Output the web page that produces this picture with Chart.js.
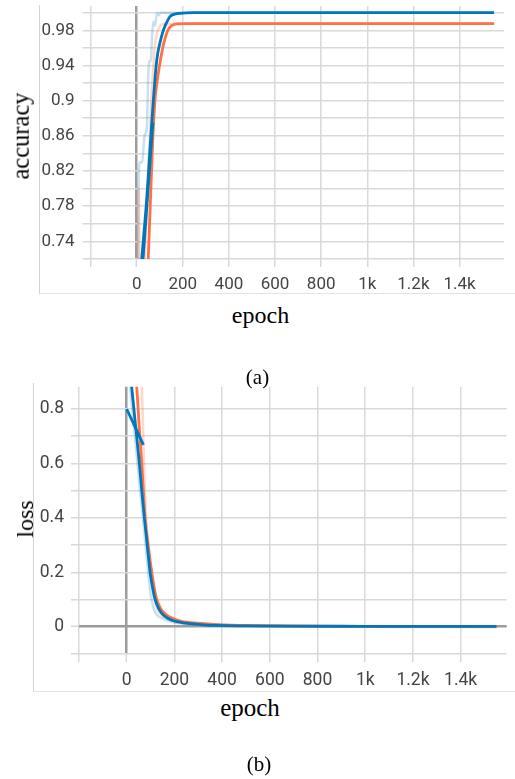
<!DOCTYPE html>
<html>
<head>
<meta charset="utf-8">
<script src="https://cdn.jsdelivr.net/npm/chart.js@4.4.0/dist/chart.umd.min.js"></script>
<style>
  html, body { margin:0; padding:0; background:#fff; }
  body { width:515px; height:779px; position:relative; overflow:hidden; }
  canvas { position:absolute; left:0; }
  .frame { position:absolute; border-left:1px solid #d2d2d2; border-bottom:1px solid #e2e2e2; }
  .lbl { position:absolute; font-family:"Liberation Serif","Times New Roman",serif; color:#000;
         line-height:1; white-space:nowrap; transform:translate(-50%,-50%); }
  .rot { transform:translate(-50%,-50%) rotate(-90deg); }
</style>
</head>
<body>

<div class="frame" style="left:39px; top:5px; width:476px; height:288px;"></div>
<div class="frame" style="left:33px; top:383px; width:482px; height:308px;"></div>

<canvas id="accChart" width="515" height="300" style="top:0; width:515px; height:300px;"></canvas>
<canvas id="lossChart" width="515" height="310" style="top:380px; width:515px; height:310px;"></canvas>

<div class="lbl rot" style="left:21px; top:136px; font-size:24.5px;">accuracy</div>
<div class="lbl" style="left:260.5px; top:315px; font-size:24px;">epoch</div>
<div class="lbl" style="left:257.5px; top:376.5px; font-size:21px;">(a)</div>

<div class="lbl rot" style="left:25px; top:518.5px; font-size:24px;">loss</div>
<div class="lbl" style="left:250px; top:706.5px; font-size:25px;">epoch</div>
<div class="lbl" style="left:259px; top:764px; font-size:21px;">(b)</div>

<script>
const BLUE = "#0077bb";
const ORANGE = "#ff7043";
const BLUE_RAW = "rgba(0,119,187,0.22)";
const ORANGE_RAW = "rgba(255,112,67,0.28)";

/* x axis (shared) */
const epochTicks = [-200, 0, 200, 400, 600, 800, 1000, 1200, 1400];
const epochLabels = ["", "0", "200", "400", "600", "800", "1k", "1.2k", "1.4k"];

/* (a) accuracy */
const accTicks = [0.72, 0.74, 0.76, 0.78, 0.80, 0.82, 0.84, 0.86, 0.88, 0.90, 0.92, 0.94, 0.96, 0.98, 1.0];
const accLabels = ["", "0.74", "", "0.78", "", "0.82", "", "0.86", "", "0.9", "", "0.94", "", "0.98", ""];

const accBlueEpoch = [10, 22, 43, 55, 65, 72, 84, 92, 101, 112, 123, 134, 144, 160, 188, 250, 600, 1000, 1550];
const accBlueValue = [0.675, 0.72, 0.787, 0.835, 0.874, 0.9, 0.939, 0.955, 0.966, 0.977, 0.985, 0.991, 0.9955, 0.998, 0.9993, 1.0, 1.0, 1.0, 1.0];

const accOrangeEpoch = [38, 50, 60, 69, 79, 89, 99, 109, 118, 128, 137, 150, 174, 220, 1550];
const accOrangeValue = [0.64, 0.72, 0.79, 0.852, 0.9, 0.923, 0.94, 0.955, 0.966, 0.975, 0.981, 0.985, 0.9872, 0.9875, 0.9875];

const accShortEpoch = [0, 70];
const accShortValue = [0.62, 0.875];

const accBlueRawEpoch = [3, 8, 14, 24, 34, 44, 50, 55, 62, 67, 72, 80, 88, 95, 105, 120, 140, 1550];
const accBlueRawValue = [0.5, 0.8, 0.83, 0.83, 0.86, 0.87, 0.93, 0.944, 0.947, 0.975, 0.99, 0.985, 1.0, 0.997, 1.0, 1.0, 1.0, 1.0];

const accOrangeRawEpoch = [2, 9, 13, 30, 45, 55, 63, 70, 80, 92, 105, 120, 1550];
const accOrangeRawValue = [0.5, 0.80, 0.68, 0.7, 0.78, 0.85, 0.9, 0.93, 0.965, 0.98, 0.986, 0.9875, 0.9875];

/* (b) loss */
const lossTicks = [-0.1, 0, 0.1, 0.2, 0.3, 0.4, 0.5, 0.6, 0.7, 0.8];
const lossLabels = ["", "0", "", "0.2", "", "0.4", "", "0.6", "", "0.8"];

const lossBlueEpoch = [0, 10, 21, 37, 53, 63, 74, 86, 98, 108, 119, 132, 147, 170, 195, 230, 265, 320, 377, 500, 700, 1000, 1300, 1550];
const lossBlueValue = [1.06, 0.97, 0.88, 0.74, 0.6, 0.5, 0.4, 0.3, 0.2, 0.145, 0.1, 0.07, 0.049, 0.032, 0.022, 0.015, 0.011, 0.007, 0.0045, 0.003, 0.002, 0.0015, 0.001, 0.001];

const lossOrangeEpoch = [25, 42, 52, 63, 77, 90, 105, 115, 126, 140, 155, 175, 195, 230, 300, 400, 600, 1000, 1550];
const lossOrangeValue = [1.02, 0.88, 0.74, 0.6, 0.4, 0.3, 0.2, 0.145, 0.1, 0.07, 0.052, 0.038, 0.03, 0.02, 0.013, 0.007, 0.003, 0.0012, 0.0005];

const lossShortEpoch = [0, 70];
const lossShortValue = [0.80, 0.668];

const lossBlueRawEpoch = [0, 15, 30, 45, 58, 68, 80, 90, 100, 112, 125, 150, 200, 300, 500, 1550];
const lossBlueRawValue = [1.1, 0.88, 0.74, 0.6, 0.48, 0.4, 0.29, 0.2, 0.12, 0.07, 0.045, 0.03, 0.015, 0.008, 0.003, 0.001];

const lossOrangeRawEpoch = [0, 50, 62, 68, 76, 88, 100, 115, 130, 160, 210, 300, 1550];
const lossOrangeRawValue = [1.3, 1.0, 0.9, 0.75, 0.5, 0.32, 0.2, 0.11, 0.06, 0.035, 0.02, 0.01, -0.002];


function points(xs, ys){
   return xs.map((x, i) => ({ x: x, y: ys[i] }));
}

function line(xs, ys, color, width){
   return {
      data: points(xs, ys),
      borderColor: color,
      borderWidth: width,
      pointRadius: 0,
      fill: false,
      cubicInterpolationMode: "monotone",
      clip: 0
   };
}

function gridOpts(){
   return {
      color: c => (c.tick && c.tick.value === 0) ? "#9c9c9c" : "#d9d9d9",
      lineWidth: c => (c.tick && c.tick.value === 0) ? 2.5 : 1.5,
      tickColor: "#d9d9d9",
      tickWidth: 1.5,
      tickLength: 8
   };
}

function fixedBox(size, vertical){
   return function(s){
      if(vertical) s.width = size; else s.height = size;
      s.paddingLeft = 0; s.paddingRight = 0;
      s.paddingTop = 0; s.paddingBottom = 0;
   };
}

function makeChart(id, cfg){
   return new Chart(document.getElementById(id), {
      type: "line",
      data: { datasets: cfg.datasets },
      options: {
         responsive: false,
         animation: false,
         events: [],
         layout: { padding: cfg.padding },
         plugins: { legend: { display: false }, tooltip: { enabled: false } },
         scales: {
            x: {
               type: "linear",
               min: -200,
               max: 1593,
               grid: gridOpts(),
               border: { display: false },
               afterBuildTicks: s => { s.ticks = epochTicks.map(v => ({ value: v })); },
               afterFit: fixedBox(cfg.xHeight, false),
               ticks: {
                  autoSkip: false,
                  maxRotation: 0,
                  minRotation: 0,
                  padding: 8,
                  color: "#444",
                  font: { family: "Roboto", size: cfg.fontSize },
                  callback: (v, i) => epochLabels[i]
               }
            },
            y: {
               type: "linear",
               min: cfg.yMin,
               max: cfg.yMax,
               grid: gridOpts(),
               border: { display: false },
               afterBuildTicks: s => { s.ticks = cfg.yTicks.map(v => ({ value: v })); },
               afterFit: fixedBox(cfg.yWidth, true),
               ticks: {
                  autoSkip: false,
                  padding: cfg.yPad,
                  color: "#444",
                  font: { family: "Roboto", size: cfg.fontSize },
                  callback: (v, i) => cfg.yLabels[i]
               }
            }
         }
      }
   });
}

/* first dataset is drawn on top */
makeChart("accChart", {
   padding: { left: 0, top: 6, right: 11, bottom: 0 },
   xHeight: 41,
   yWidth: 90.6,
   yPad: 8,
   fontSize: 17,
   yMin: 0.72,
   yMax: 1.0076,
   yTicks: accTicks,
   yLabels: accLabels,
   datasets: [
      line(accShortEpoch, accShortValue, BLUE, 2.8),
      line(accBlueEpoch, accBlueValue, BLUE, 2.8),
      line(accOrangeEpoch, accOrangeValue, ORANGE, 2.8),
      line(accOrangeRawEpoch, accOrangeRawValue, ORANGE_RAW, 2.5),
      line(accBlueRawEpoch, accBlueRawValue, BLUE_RAW, 2.5)
   ]
});

makeChart("lossChart", {
   padding: { left: 0, top: 6.7, right: 8.3, bottom: 0 },
   xHeight: 36.1,
   yWidth: 79,
   yPad: 7,
   fontSize: 17.5,
   yMin: -0.1,
   yMax: 0.882,
   yTicks: lossTicks,
   yLabels: lossLabels,
   datasets: [
      line(lossShortEpoch, lossShortValue, BLUE, 2.8),
      line(lossBlueEpoch, lossBlueValue, BLUE, 2.8),
      line(lossOrangeEpoch, lossOrangeValue, ORANGE, 2.8),
      line(lossOrangeRawEpoch, lossOrangeRawValue, ORANGE_RAW, 2.5),
      line(lossBlueRawEpoch, lossBlueRawValue, BLUE_RAW, 2.5)
   ]
});
</script>
</body>
</html>
